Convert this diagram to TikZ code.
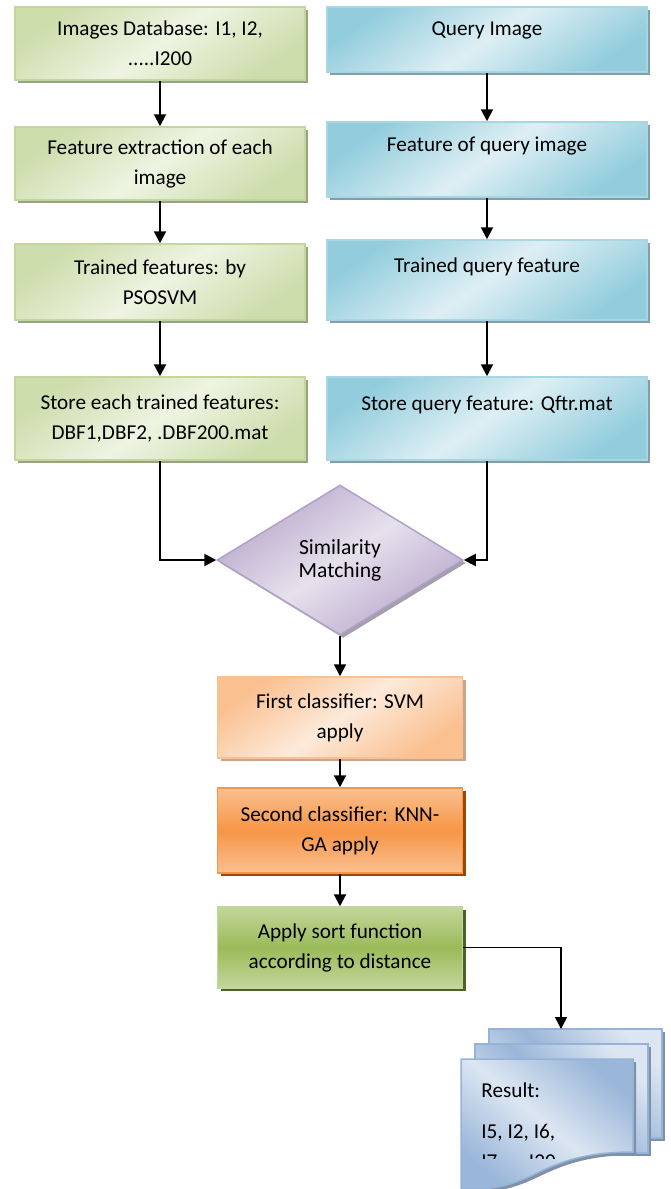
\documentclass[tikz,border=0pt]{standalone}
\usepackage{fontspec}
\setmainfont{Carlito}
\usetikzlibrary{shapes.geometric,arrows.meta,shadows}

\definecolor{dbLight}{HTML}{EEF4E2}
\definecolor{dbDark}{HTML}{CDDDAC}
\definecolor{dbEdge}{HTML}{C3D69B}
\definecolor{dbShade}{HTML}{98A383}
\definecolor{qLight}{HTML}{DEEFF4}
\definecolor{qDark}{HTML}{93CDDD}
\definecolor{qEdge}{HTML}{A8D7E3}
\definecolor{qShade}{HTML}{7FA0AA}
\definecolor{simLight}{HTML}{E6E1ED}
\definecolor{simDark}{HTML}{B8A8CB}
\definecolor{simEdge}{HTML}{B2A1C7}
\definecolor{simShade}{HTML}{A39FAB}
\definecolor{svmLight}{HTML}{FDEADA}
\definecolor{svmDark}{HTML}{FAC090}
\definecolor{svmShade}{HTML}{C8A58C}
\definecolor{knnLight}{HTML}{FAC090}
\definecolor{knnDark}{HTML}{F79646}
\definecolor{knnShade}{HTML}{984807}
\definecolor{sortLight}{HTML}{C3D69B}
\definecolor{sortDark}{HTML}{9BBB59}
\definecolor{sortShade}{HTML}{4F6228}
\definecolor{resLight}{HTML}{DCE6F2}
\definecolor{resDark}{HTML}{9AB6D9}
\definecolor{resEdge}{HTML}{95B3D7}
\definecolor{resShade}{HTML}{8090A6}

\tikzstyle{box}      = [rectangle, draw, line width=0.75pt, align=center
                       , inner sep=2pt, font=\fontsize{10.6}{15}\selectfont]
\tikzstyle{dbbox}    = [box, draw=dbEdge, top color=dbDark, bottom color=dbDark
                       , middle color=dbLight, shading angle=35, minimum width=145pt
                       , drop shadow={shadow xshift=1.5pt, shadow yshift=-1.5pt, fill=dbShade, opacity=1}]
\tikzstyle{qbox}     = [box, draw=qEdge, top color=qDark, bottom color=qDark
                       , middle color=qLight, shading angle=35, minimum width=160pt
                       , text depth=15pt
                       , drop shadow={shadow xshift=1.5pt, shadow yshift=-1.5pt, fill=qShade, opacity=1}]
\tikzstyle{simnode}  = [diamond, draw=simEdge, line width=0.75pt, inner sep=0pt
                       , minimum width=123pt, minimum height=75pt, align=center
                       , font=\fontsize{10.8}{11.5}\selectfont
                       , top color=simDark, bottom color=simDark, middle color=simLight, shading angle=35
                       , drop shadow={shadow xshift=1.5pt, shadow yshift=-1.5pt, fill=simShade, opacity=1}]
\tikzstyle{clsbox}   = [box, minimum width=122.5pt]
\tikzstyle{flow}     = [line width=1pt, -{Triangle[length=6pt, width=6pt]}]

\newcommand{\ResultFront}{(461,1059) -- (633,1059) -- (633,1152)
  .. controls (585,1152) and (560,1162) .. (535,1174)
  .. controls (510,1186) and (490,1191) .. (461,1188) -- cycle}

\begin{document}
\begin{tikzpicture}[x=0.5pt, y=-0.5pt]
\useasboundingbox (0,0) rectangle (670,1189);

%% Database side
\node [dbbox, minimum height=36.5pt] (ImagesDb-Box) at (160,43.5) {Images Database: I1, I2,\\.....I200};
\node [dbbox, minimum height=36.5pt] (DbFeature-Box) at (160,163.5) {Feature extraction of each\\image};
\node [dbbox, minimum height=38pt] (DbTrained-Box) at (160,282) {Trained features: by\\PSOSVM};
\node [dbbox, minimum height=41.5pt] (DbStore-Box) at (160,418.5) {Store each trained features:\\DBF1,DBF2, .DBF200.mat};

%% Query side
\node [qbox, minimum height=32.5pt, text depth=11pt] (Query-Box) at (487,39.5) {Query Image};
\node [qbox, minimum height=37.5pt] (QFeature-Box) at (487,159.5) {Feature of query image};
\node [qbox, minimum height=40pt] (QTrained-Box) at (487,280) {Trained query feature};
\node [qbox, minimum height=41.5pt] (QStore-Box) at (487,418.5) {Store query feature: Qftr.mat};

%% Matching and classifiers
\node [simnode] (Similarity-Node) at (340,560) {Similarity\\Matching};
\node [clsbox, minimum height=40.5pt, draw=svmDark, top color=svmDark, bottom color=svmDark, middle color=svmLight
      , shading angle=35
      , drop shadow={shadow xshift=1.5pt, shadow yshift=-1.5pt, fill=svmShade, opacity=1}]
      (Svm-Box) at (340,717.5) {First classifier: SVM\\apply};
\node [clsbox, minimum height=42.5pt, draw=knnDark, top color=knnLight, bottom color=knnLight, middle color=knnDark
      , drop shadow={shadow xshift=1.5pt, shadow yshift=-1.5pt, fill=knnShade, opacity=1}]
      (Knn-Box) at (340,830.5) {Second classifier: KNN-\\GA apply};
\node [clsbox, minimum height=40.5pt, draw=sortLight, top color=sortLight, bottom color=sortLight, middle color=sortDark
      , drop shadow={shadow xshift=1.5pt, shadow yshift=-1.5pt, fill=sortShade, opacity=1}]
      (Sort-Box) at (340,947.5) {Apply sort function\\according to distance};

%% Result pages
\tikzstyle{sheet} = [draw=resEdge, line width=0.75pt, top color=resLight, bottom color=resLight
                    , middle color=resDark, shading angle=-45
                    , drop shadow={shadow xshift=1.5pt, shadow yshift=-1.5pt, fill=resShade, opacity=1}]
\path [sheet] (489,1029) rectangle (662,1138);
\path [sheet] (475,1044) rectangle (648,1153);
\path [sheet, top color=resDark, bottom color=resDark, middle color=resLight, shading angle=-40] \ResultFront;
\begin{scope}
  \clip (461,1059) rectangle (633,1158);
  \node [anchor=north west, inner sep=0pt, align=left, font=\fontsize{10.6}{15}\selectfont]
        (Result-Text) at (481,1082) {Result:\\[5.5pt]I5, I2, I6,\\I7, ....I20};
\end{scope}
\coordinate (Result-In) at (561,1029);

%% Connectors
\draw [flow] (ImagesDb-Box) -- (DbFeature-Box);
\draw [flow] (DbFeature-Box) -- (DbTrained-Box);
\draw [flow] (DbTrained-Box) -- (DbStore-Box);
\draw [flow] (Query-Box) -- (QFeature-Box);
\draw [flow] (QFeature-Box) -- (QTrained-Box);
\draw [flow] (QTrained-Box) -- (QStore-Box);
\draw [flow] (DbStore-Box.south) |- (Similarity-Node.west);
\draw [flow] (QStore-Box.south) |- (Similarity-Node.east);
\draw [flow] (Similarity-Node) -- (Svm-Box);
\draw [flow] (Svm-Box) -- (Knn-Box);
\draw [flow] (Knn-Box) -- (Sort-Box);
\draw [flow, line width=0.8pt] (Sort-Box.east) -| (Result-In);

\end{tikzpicture}
\end{document}
